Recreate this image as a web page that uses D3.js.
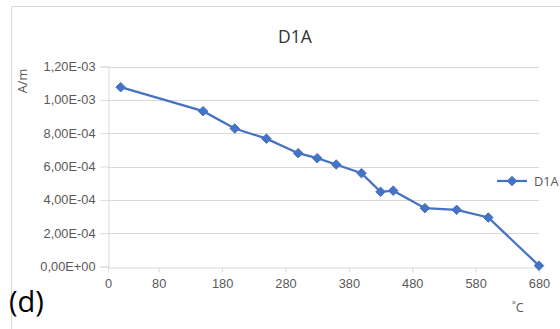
<!DOCTYPE html>
<html>
<head>
<meta charset="utf-8">
<script src="https://cdn.jsdelivr.net/npm/d3@7"></script>
<style>
  html, body { margin: 0; padding: 0; background: #fff; }
  svg { display: block; font-family: "Open Sans", "Liberation Sans", sans-serif; }
</style>
</head>
<body>
<svg id="chart" width="560" height="329"></svg>
<script>
// Temperature (°C) and field strength (A/m) for sample D1A
const temperatures = [20, 150, 200, 250, 300, 330, 360, 400, 430, 450, 500, 550, 600, 680];
const fieldValues = [1.076e-3, 0.932e-3, 0.828e-3, 0.767e-3, 0.680e-3, 0.650e-3, 0.612e-3,
                     0.560e-3, 0.448e-3, 0.455e-3, 0.350e-3, 0.340e-3, 0.294e-3, 0.005e-3];
const xTicks = [0, 80, 180, 280, 380, 480, 580, 680];
const yTicks = [0, 2e-4, 4e-4, 6e-4, 8e-4, 1e-3, 1.2e-3];
const seriesName = "D1A";

const data = temperatures.map((t, i) => ({ t, v: fieldValues[i] }));

const svg = d3.select("#chart");
const lineColor = "#4472c4";
const textColor = "#595959";
const gridColor = "#d9d9d9";
const tickFont = "12.8px";

// chart frame (top and left edges)
svg.append("path")
  .attr("d", "M11.5,329 V6.5 H560")
  .attr("fill", "none")
  .attr("stroke", gridColor)
  .attr("stroke-width", 1);

const x = d3.scaleLinear().domain([0, 680]).range([108, 539]);
const y = d3.scaleLinear().domain([0, 1.2e-3]).range([266.5, 66.5]);

const fmtY = v => {
  const s = v.toExponential(2).toUpperCase().replace(".", ",");
  // pad exponent to two digits: 1,20E-3 -> 1,20E-03
  return s.replace(/E([+-])(\d)$/, "E$10$2");
};

// horizontal gridlines
svg.append("g")
  .selectAll("line")
  .data(yTicks.filter(d => d > 0))
  .join("line")
  .attr("x1", 108).attr("x2", 539)
  .attr("y1", d => Math.round(y(d)) + 0.5)
  .attr("y2", d => Math.round(y(d)) + 0.5)
  .attr("stroke", gridColor)
  .attr("stroke-width", 1);

// y axis
const yAxis = svg.append("g")
  .attr("transform", "translate(108.5,0)")
  .call(d3.axisLeft(y).tickValues(yTicks).tickFormat(fmtY).tickSize(8).tickPadding(5));
yAxis.select(".domain").attr("stroke", gridColor);
yAxis.selectAll(".tick line").attr("stroke", gridColor);
yAxis.selectAll(".tick text")
  .attr("fill", textColor)
  .style("font-size", tickFont)
  .attr("font-family", null);

// x axis
const xAxis = svg.append("g")
  .attr("transform", `translate(0,${Math.round(y(0)) + 0.5})`)
  .call(d3.axisBottom(x).tickValues(xTicks).tickFormat(d3.format("d")).tickSize(5).tickPadding(6));
xAxis.select(".domain").attr("stroke", gridColor);
xAxis.selectAll(".tick line").attr("stroke", gridColor);
xAxis.selectAll(".tick text")
  .attr("fill", textColor)
  .style("font-size", tickFont)
  .attr("font-family", null);

// series line
svg.append("path")
  .datum(data)
  .attr("fill", "none")
  .attr("stroke", lineColor)
  .attr("stroke-width", 2.25)
  .attr("d", d3.line().x(d => x(d.t)).y(d => y(d.v)));

// diamond markers
const diamond = d3.symbol().type(d3.symbolDiamond2).size(58);
svg.append("g")
  .selectAll("path")
  .data(data)
  .join("path")
  .attr("transform", d => `translate(${x(d.t)},${y(d.v)})`)
  .attr("d", diamond)
  .attr("fill", lineColor)
  .attr("stroke", lineColor)
  .attr("stroke-width", 1);

// title
svg.append("text")
  .attr("x", 295).attr("y", 43)
  .attr("text-anchor", "middle")
  .attr("fill", "#333")
  .style("font-size", "17.5px")
  .text(seriesName);

// axis titles
svg.append("text")
  .attr("transform", "translate(27,81) rotate(-90)")
  .attr("text-anchor", "middle")
  .attr("fill", textColor)
  .style("font-size", tickFont)
  .text("A/m");

svg.append("text")
  .attr("x", 518).attr("y", 312)
  .attr("text-anchor", "middle")
  .attr("fill", textColor)
  .style("font-size", tickFont)
  .text("˚C");

// legend
const lg = svg.append("g").attr("transform", "translate(497,181)");
lg.append("line")
  .attr("x1", 0).attr("x2", 30)
  .attr("stroke", lineColor).attr("stroke-width", 2.25);
lg.append("path")
  .attr("transform", "translate(15,0)")
  .attr("d", diamond)
  .attr("fill", lineColor)
  .attr("stroke", lineColor)
  .attr("stroke-width", 1);
lg.append("text")
  .attr("x", 37).attr("y", 4.5)
  .attr("fill", textColor)
  .style("font-size", tickFont)
  .text(seriesName);

// panel label
svg.append("text")
  .attr("x", 9).attr("y", 312)
  .attr("fill", "#000")
  .style("font-size", "29px")
  .text("(d)");
</script>
</body>
</html>
